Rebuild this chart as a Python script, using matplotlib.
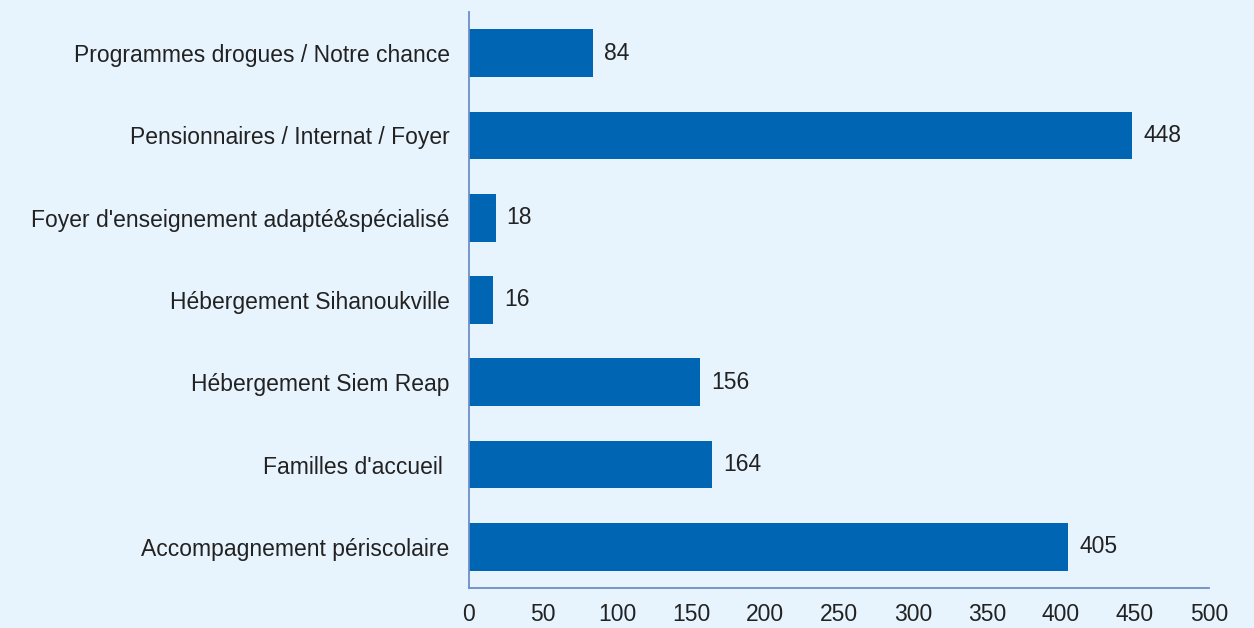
import matplotlib.pyplot as plt

categories = ["Programmes drogues / Notre chance",
              "Pensionnaires / Internat / Foyer",
              "Foyer d'enseignement adapté&spécialisé",
              "Hébergement Sihanoukville",
              "Hébergement Siem Reap",
              "Familles d'accueil ",
              "Accompagnement périscolaire"]
values = [84, 448, 18, 16, 156, 164, 405]
xticks = [0, 50, 100, 150, 200, 250, 300, 350, 400, 450, 500]

bg = "#E8F4FD"
bar_color = "#0066B3"
axis_color = "#6C8EC8"
fs = 16.5

plt.rcParams['font.family'] = ['Liberation Sans', 'DejaVu Sans']

fig = plt.figure(figsize=(12.54, 6.28), dpi=100, facecolor=bg)
ax = fig.add_axes([0.374, 0.0637, 0.590, 0.9173], facecolor=bg)

pos = list(range(len(categories)))[::-1]
ax.barh(pos, values, height=0.58, color=bar_color)
for p, v in zip(pos, values):
    ax.text(v + 7.5, p, str(v), va="center", ha="left", fontsize=fs, color="#222222")

ax.set_xlim(0, 500)
ax.set_ylim(-0.5, 6.5)
ax.set_yticks(pos)
ax.set_yticklabels(categories, fontsize=fs, color="#222222")
ax.set_xticks(xticks)
ax.set_xticklabels([str(t) for t in xticks], fontsize=fs, color="#222222")
ax.tick_params(axis="both", length=0)
ax.tick_params(axis="y", pad=14)
ax.tick_params(axis="x", pad=11)

for s in ["top", "right"]:
    ax.spines[s].set_visible(False)
for s in ["left", "bottom"]:
    ax.spines[s].set_color(axis_color)
    ax.spines[s].set_linewidth(1.3)

fig.savefig("out.png", dpi=100, facecolor=bg)
